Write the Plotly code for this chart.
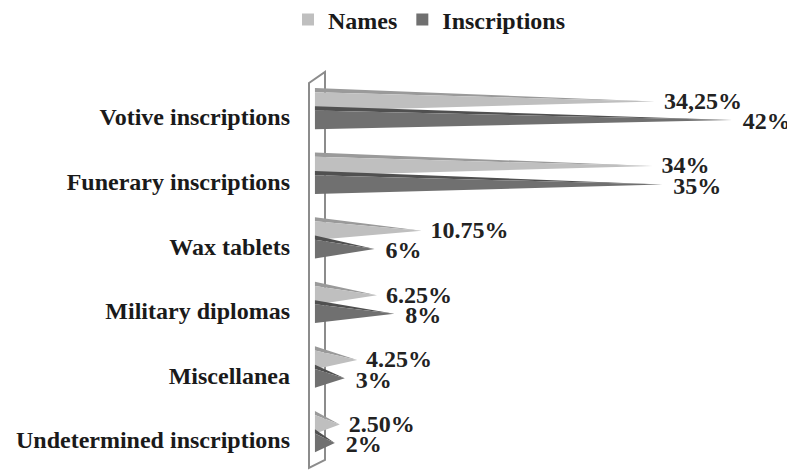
import plotly.graph_objects as go

categories = ["Votive inscriptions", "Funerary inscriptions", "Wax tablets",
              "Military diplomas", "Miscellanea", "Undetermined inscriptions"]
names_vals = [34.25, 34.0, 10.75, 6.25, 4.25, 2.50]
insc_vals = [42.0, 35.0, 6.0, 8.0, 3.0, 2.0]
names_labels = ["34,25%", "34%", "10.75%", "6.25%", "4.25%", "2.50%"]
insc_labels = ["42%", "35%", "6%", "8%", "3%", "2%"]

FONT = "Liberation Serif"
FS = 24
C_NAMES = "#bfbfbf"
C_NAMES_TOP = "#9a9a9a"
C_INSC = "#707070"
C_INSC_TOP = "#505050"

HALF = 0.145     # half height of cone base (category units)
TOP = 0.065      # depth of top face
OFF_N = -0.24    # names cone offset from category position
OFF_I = 0.045    # inscriptions cone offset

fig = go.Figure()

def add_cone(v, yc, body, top, name):
    # top face
    fig.add_trace(go.Scatter(
        x=[0, 0, v, 0], y=[yc - HALF, yc - HALF - TOP, yc, yc - HALF],
        fill="toself", mode="lines", line=dict(width=0, color=top),
        fillcolor=top, hoverinfo="skip", showlegend=False))
    # body
    fig.add_trace(go.Scatter(
        x=[0, 0, v, 0], y=[yc - HALF, yc + HALF, yc, yc - HALF],
        fill="toself", mode="lines", line=dict(width=0, color=body),
        fillcolor=body, hoverinfo="skip", showlegend=False, name=name))

for i in range(len(categories)):
    add_cone(names_vals[i], i + OFF_N, C_NAMES, C_NAMES_TOP, "Names")
    add_cone(insc_vals[i], i + OFF_I, C_INSC, C_INSC_TOP, "Inscriptions")

LBL = dict(family=FONT, size=FS, color="#222222", weight="bold")

# data labels
fig.add_trace(go.Scatter(
    x=[v + 0.9 for v in names_vals], y=[i + OFF_N + 0.02 for i in range(len(categories))],
    mode="text", text=names_labels, textposition="middle right",
    textfont=LBL, cliponaxis=False, showlegend=False, hoverinfo="skip"))
fig.add_trace(go.Scatter(
    x=[v + 1.1 for v in insc_vals], y=[i + OFF_I + 0.05 for i in range(len(categories))],
    mode="text", text=insc_labels, textposition="middle right",
    textfont=LBL, cliponaxis=False, showlegend=False, hoverinfo="skip"))

# legend entries
fig.add_trace(go.Scatter(x=[None], y=[None], mode="markers", name="Names",
                         marker=dict(symbol="square", size=12, color=C_NAMES)))
fig.add_trace(go.Scatter(x=[None], y=[None], mode="markers", name="Inscriptions",
                         marker=dict(symbol="square", size=12, color=C_INSC)))

OFFSET = 8  # page body margin
W, H = 795 - OFFSET, 471 - OFFSET
ML, MT = 305 - OFFSET, 55 - OFFSET
pw, ph = W - ML, H - MT

def px(x):
    return (x - OFFSET - ML) / pw

def py(y):
    return 1 - (y - OFFSET - MT) / ph

wall_path = (f"M {px(309)} {py(83)} L {px(325)} {py(72)} L {px(325)} {py(460)} "
             f"L {px(309)} {py(468)} Z")
fig.add_shape(type="path", path=wall_path, xref="paper", yref="paper",
              fillcolor="white", line=dict(color="#8c8c8c", width=2), layer="below")

fig.update_layout(
    width=W, height=H,
    margin=dict(l=ML, r=0, t=MT, b=0, autoexpand=False),
    plot_bgcolor="white", paper_bgcolor="white",
    font=dict(family=FONT, size=FS, color="#1a1a1a", weight="bold"),
    xaxis=dict(range=[-1.0, 48.35], visible=False, fixedrange=True, automargin=False),
    yaxis=dict(range=[5.48, -0.96], tickmode="array",
               tickvals=list(range(len(categories))), ticktext=categories,
               showgrid=False, zeroline=False, showline=False, ticks="",
               ticklabelstandoff=14, automargin=False,
               tickfont=dict(family=FONT, size=FS, color="#1a1a1a", weight="bold")),
    legend=dict(orientation="h", x=px(288), xanchor="left", xref="paper",
                y=py(20), yanchor="middle", yref="paper",
                font=dict(family=FONT, size=FS, color="#1a1a1a", weight="bold"),
                itemwidth=30, tracegroupgap=0, bgcolor="rgba(0,0,0,0)"),
    showlegend=True,
)

fig.write_html("out.html")
